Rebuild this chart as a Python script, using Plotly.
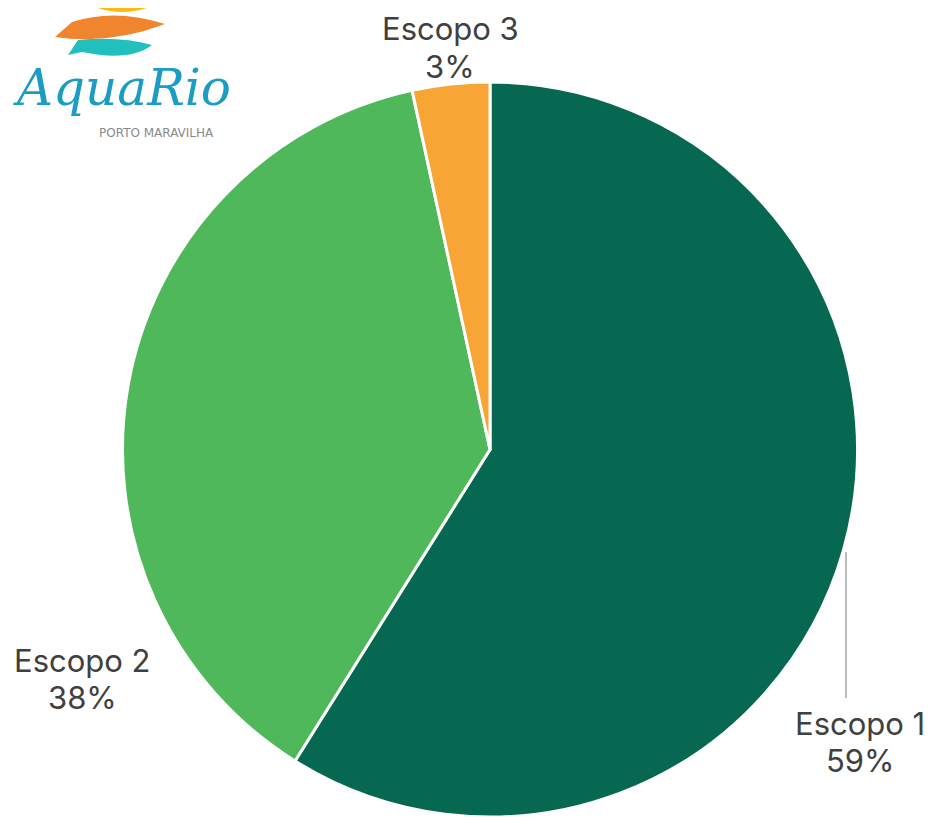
import plotly.graph_objects as go

labels = ["Escopo 1", "Escopo 2", "Escopo 3"]
values = [58.9, 37.7, 3.4]
colors = ["#076852", "#4FB85A", "#F7A535"]

OFF = 8  # page body margin
W, H = 932 - OFF, 817 - OFF
ML, MT = 122 - OFF, 82 - OFF
PW, PH = 736, 735
MR, MB = W - ML - PW, H - MT - PH

def px(x):
    return (x - OFF - ML) / PW

def py(y):
    return (H - MB - (y - OFF)) / PH

fig = go.Figure(go.Pie(
    labels=labels, values=values, sort=False, direction="clockwise", rotation=0,
    marker=dict(colors=colors, line=dict(color="white", width=3)),
    textinfo="none", hoverinfo="label+percent", showlegend=False,
))

total = sum(values)
pct = [f"{round(v / total * 100)}%" for v in values]
label_pos = [(860, 723, 760), (82, 660, 697), (450, 28, 66)]
annotations = []
for lab, p, (x, y1, y2) in zip(labels, pct, label_pos):
    for txt, yy in ((lab, y1), (p, y2)):
        annotations.append(dict(
            x=px(x), y=py(yy), xref="paper", yref="paper", showarrow=False,
            text=txt, align="center",
            font=dict(family="Inter", size=31, color="#404040"),
            xanchor="center", yanchor="middle",
        ))

# logo (approximation)
annotations.append(dict(x=px(122), y=py(88), xref="paper", yref="paper", showarrow=False,
    text="<i>AquaRio</i>", font=dict(family="DejaVu Serif", size=50, color="#1A9CC4"),
    xanchor="center", yanchor="middle"))
annotations.append(dict(x=px(156), y=py(133), xref="paper", yref="paper", showarrow=False,
    text="PORTO MARAVILHA", font=dict(family="DejaVu Sans", size=12, color="#8A8A8A"),
    xanchor="center", yanchor="middle"))

shapes = [
    dict(type="line", xref="paper", yref="paper", x0=px(846), x1=px(846), y0=py(552), y1=py(698),
         line=dict(color="#A6A6A6", width=1.5)),
    dict(type="path", xref="paper", yref="paper",
         path=f"M {px(80)},{py(0)} Q {px(122)},{py(24)} {px(165)},{py(0)} Z",
         fillcolor="#FDB813", line=dict(width=0)),
    dict(type="path", xref="paper", yref="paper",
         path=(f"M {px(55)},{py(5)} L {px(72)},{py(22)} L {px(55)},{py(37)} "
               f"Q {px(110)},{py(45)} {px(165)},{py(24)} Q {px(115)},{py(8)} {px(72)},{py(22)} Z"),
         fillcolor="#F0852D", line=dict(width=0)),
    dict(type="path", xref="paper", yref="paper",
         path=(f"M {px(68)},{py(55)} L {px(78)},{py(40)} "
               f"Q {px(120)},{py(36)} {px(152)},{py(45)} Q {px(130)},{py(62)} {px(82)},{py(52)} Z"),
         fillcolor="#22BFBF", line=dict(width=0)),
]

fig.update_layout(
    width=W, height=H,
    margin=dict(l=ML, r=MR, t=MT, b=MB),
    paper_bgcolor="white", plot_bgcolor="white",
    annotations=annotations, shapes=shapes,
)

fig.write_html("out.html")
